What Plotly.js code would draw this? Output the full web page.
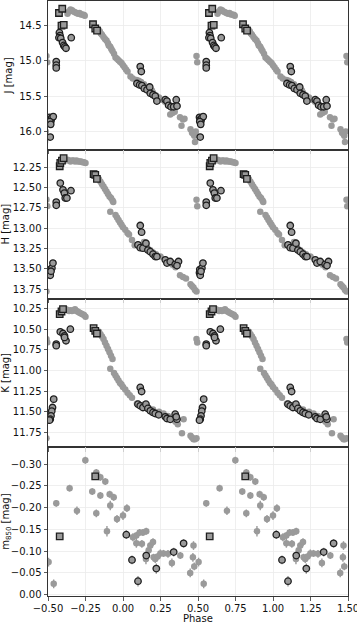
<!DOCTYPE html>
<html><head><meta charset="utf-8">
<script src="https://cdn.plot.ly/plotly-3.0.1.min.js"></script>
<style>html,body{margin:0;padding:0;background:#fff}#c{width:357px;height:623px}</style>
</head><body><div id="c"></div>
<script>
// ---------- J band (base phase in [-0.5,0.5), repeated each cycle) ----------
const J_grey_phase = [-0.37,-0.36,-0.35,-0.34,-0.33,-0.32,-0.31,-0.30,-0.29,-0.28,-0.27,-0.26,-0.255,
 -0.165,-0.155,-0.148,-0.14,-0.13,-0.12,-0.11,-0.10,-0.095,-0.085,-0.078,-0.07,-0.06,-0.05,-0.04,-0.03,-0.02,-0.01,0.0,0.01,0.02,0.03,0.05,0.065,0.09,0.105,0.12,0.14,0.16,0.18,0.193,0.20,0.22,0.24,0.26,0.28,0.30,0.315,0.33,0.345,0.38,0.39,0.40,0.41,0.45,0.46,0.47,0.475,0.48,0.485,0.49,0.495];
const J_grey_mag   = [14.33,14.30,14.27,14.28,14.30,14.31,14.32,14.33,14.32,14.34,14.34,14.35,14.36,
 14.55,14.58,14.61,14.63,14.66,14.69,14.71,14.75,14.78,14.80,14.83,14.86,14.90,14.95,14.97,14.99,15.01,15.03,15.06,15.09,15.12,15.15,15.22,15.25,15.27,15.28,15.30,15.33,15.38,15.42,15.42,15.45,15.49,15.52,15.55,15.58,15.62,15.76,15.74,15.72,15.80,15.92,15.83,15.82,15.97,16.02,16.04,16.06,16.15,16.00,14.93,15.02];
const J_circ_phase = [-0.424,-0.42,-0.427,-0.415,-0.403,-0.395,-0.388,-0.38,-0.345,-0.445,-0.445,-0.445,
 -0.49,-0.485,-0.48,-0.475,-0.465,-0.488,-0.482,-0.485,
 0.115,0.122,0.093,0.111,0.126,0.142,0.16,0.178,0.182,0.2,0.215,0.226,0.282,0.293,0.304,0.32,0.338,0.355,0.36];
const J_circ_mag   = [14.60,14.64,14.67,14.68,14.74,14.78,14.80,14.82,14.67,15.01,15.06,15.10,
 15.80,15.83,15.85,15.81,15.79,15.86,15.90,16.08,
 15.08,15.15,15.32,15.34,15.35,15.39,15.41,15.37,15.46,15.48,15.50,15.57,15.55,15.57,15.63,15.65,15.65,15.55,15.64];
const J_sq_phase = [-0.427,-0.405,-0.41,-0.395,-0.2,-0.185,-0.173];
const J_sq_mag   = [14.32,14.26,14.50,14.49,14.48,14.54,14.57];

// ---------- H band ----------
const H_grey_phase = [-0.385,-0.37,-0.36,-0.35,-0.34,-0.33,-0.32,-0.31,-0.30,-0.29,-0.28,-0.27,-0.26,-0.25,
 -0.16,-0.15,-0.14,-0.13,-0.12,-0.11,-0.10,-0.09,-0.08,-0.07,-0.065,-0.085,-0.05,-0.04,-0.03,-0.02,-0.01,0.0,0.015,0.03,0.04,0.06,0.078,0.14,0.16,0.18,0.2,0.22,0.25,0.28,0.31,0.33,0.35,0.38,0.40,0.42,0.45,0.46,0.47,0.48,0.49,0.49,0.495];
const H_grey_mag   = [12.17,12.16,12.17,12.18,12.17,12.17,12.18,12.17,12.18,12.18,12.18,12.19,12.19,12.20,
 12.40,12.43,12.46,12.49,12.52,12.55,12.58,12.61,12.63,12.66,12.68,12.80,12.84,12.87,12.90,12.93,12.96,12.99,13.02,13.06,13.08,13.145,13.21,13.17,13.23,13.27,13.30,13.32,13.35,13.39,13.43,13.45,13.48,13.58,13.60,13.62,13.69,13.71,13.73,13.76,13.78,12.65,12.73];
const H_circ_phase = [-0.418,-0.40,-0.391,-0.385,-0.374,-0.347,-0.445,-0.445,
 -0.49,-0.485,-0.488,-0.474,-0.467,-0.48,
 0.115,0.124,0.10,0.115,0.133,0.153,0.166,0.182,0.20,0.215,0.226,0.282,0.293,0.315,0.348,0.37,0.36];
const H_circ_mag   = [12.447,12.53,12.57,12.63,12.63,12.54,12.68,12.72,
 13.55,13.58,13.51,13.49,13.43,13.53,
 12.968,13.05,13.206,13.24,13.247,13.186,13.27,13.29,13.32,13.35,13.35,13.39,13.43,13.41,13.445,13.41,13.46];
const H_sq_phase = [-0.422,-0.418,-0.407,-0.396,-0.196,-0.185,-0.174];
const H_sq_mag   = [12.24,12.20,12.17,12.14,12.336,12.345,12.394];

// ---------- K band ----------
const K_grey_phase = [-0.38,-0.37,-0.36,-0.35,-0.34,-0.33,-0.32,-0.31,-0.30,-0.29,-0.28,-0.27,-0.26,-0.25,
 -0.16,-0.15,-0.14,-0.13,-0.12,-0.11,-0.10,-0.09,-0.08,-0.07,-0.085,-0.06,-0.05,-0.04,-0.03,-0.02,-0.01,0.0,0.015,0.03,0.045,0.06,0.093,0.14,0.17,0.20,0.24,0.27,0.30,0.33,0.35,0.365,0.404,0.393,0.45,0.46,0.47,0.48,0.49,0.49,0.495];
const K_grey_mag   = [10.26,10.27,10.28,10.27,10.28,10.27,10.26,10.28,10.29,10.30,10.31,10.32,10.33,10.35,
 10.53,10.56,10.59,10.62,10.66,10.70,10.74,10.78,10.82,10.86,10.98,11.03,11.06,11.09,11.12,11.15,11.17,11.20,11.23,11.27,11.30,11.33,11.40,11.41,11.45,11.47,11.50,11.52,11.55,11.59,11.62,11.65,11.59,11.76,11.79,11.81,11.83,11.83,11.82,10.62,10.66];
const K_circ_phase = [-0.418,-0.40,-0.39,-0.38,-0.351,-0.445,-0.445,-0.39,
 -0.462,-0.47,-0.475,-0.48,-0.485,-0.49,
 0.115,0.124,0.10,0.115,0.133,0.153,0.166,0.182,0.20,0.215,0.238,0.282,0.293,0.315,0.348,0.36,0.355];
const K_circ_mag   = [10.532,10.552,10.58,10.64,10.50,10.68,10.70,10.60,
 11.346,11.447,11.49,11.548,11.588,11.60,
 11.205,11.254,11.407,11.427,11.447,11.407,11.459,11.487,11.507,11.52,11.536,11.56,11.58,11.59,11.528,11.588,11.56];
const K_sq_phase = [-0.422,-0.41,-0.40,-0.196,-0.185,-0.174];
const K_sq_mag   = [10.318,10.286,10.258,10.488,10.52,10.552];

// ---------- 850 um ----------
const S_grey_phase = [-0.496,-0.462,-0.445,-0.356,-0.307,-0.251,-0.205,-0.178,-0.178,-0.151,-0.151,-0.118,-0.107,-0.089,-0.085,-0.062,-0.04,0.0,0.026,0.066,0.089,0.111,0.133,0.155,0.126,0.089,0.171,0.182,0.2,0.153,0.204,0.215,0.231,0.249,0.27,0.30,0.326,0.382,0.448,0.466,0.47,0.475];
const S_grey_mag   = [-0.075,-0.025,-0.210,-0.245,-0.193,-0.309,-0.237,-0.281,-0.187,-0.270,-0.228,-0.260,-0.146,-0.231,-0.205,-0.224,-0.174,-0.182,-0.199,-0.132,-0.136,-0.143,-0.143,-0.146,-0.117,-0.118,-0.102,-0.113,-0.121,-0.082,-0.086,-0.082,-0.088,-0.095,-0.095,-0.094,-0.073,-0.090,-0.050,-0.086,-0.113,-0.065];
const S_grey_err   = [0.010,0.010,0.008,0.008,0.010,0.008,0.008,0.008,0.009,0.008,0.008,0.008,0.012,0.008,0.011,0.008,0.009,0.010,0.009,0.009,0.008,0.008,0.008,0.008,0.009,0.010,0.010,0.009,0.009,0.012,0.008,0.009,0.008,0.009,0.008,0.009,0.010,0.008,0.010,0.010,0.010,0.009];
const S_circ_phase = [0.022,0.06,0.10,0.155,0.222,0.338,0.404];
const S_circ_mag   = [-0.138,-0.080,-0.031,-0.090,-0.060,-0.098,-0.118];
const S_circ_err   = [0.010,0.010,0.012,0.010,0.012,0.010,0.010];
const S_sq_phase = [-0.422,-0.185];
const S_sq_mag   = [-0.134,-0.272];
const S_sq_err   = [0.006,0.006];

const xTicks = [-0.5,-0.25,0,0.25,0.5,0.75,1.0,1.25,1.5];

// repeat each base phase over neighbouring cycles (phase-folded display)
function cyc(p){ return [].concat(p.map(v=>v-1), p, p.map(v=>v+1)); }
function rep(a){ return [].concat(a, a, a); }

const GREY = '#9a9a9a', EDGE = '#1e1e1e';
const traces = [];
function addSet(ax, gp, gm, cp, cm, sp, sm, ge, ce, se){
  const xa = ax===1 ? 'x' : 'x'+ax, ya = ax===1 ? 'y' : 'y'+ax;
  const eb = (e)=> e ? {type:'data', array: rep(e), visible:true, color:'#9a9a9a', thickness:1.4, width:0} : undefined;
  traces.push({type:'scatter', mode:'markers', x:cyc(gp), y:rep(gm), xaxis:xa, yaxis:ya,
    marker:{color:GREY, size:6.5, line:{width:0}}, error_y:eb(ge), showlegend:false, hoverinfo:'x+y'});
  traces.push({type:'scatter', mode:'markers', x:cyc(cp), y:rep(cm), xaxis:xa, yaxis:ya,
    marker:{color:GREY, size:6.5, line:{width:1.3, color:EDGE}}, error_y:eb(ce), showlegend:false});
  traces.push({type:'scatter', mode:'markers', x:cyc(sp), y:rep(sm), xaxis:xa, yaxis:ya,
    marker:{symbol:'square', color:GREY, size:6.5, line:{width:1.3, color:EDGE}}, error_y:eb(se), showlegend:false});
}
addSet(1, J_grey_phase, J_grey_mag, J_circ_phase, J_circ_mag, J_sq_phase, J_sq_mag);
addSet(2, H_grey_phase, H_grey_mag, H_circ_phase, H_circ_mag, H_sq_phase, H_sq_mag);
addSet(3, K_grey_phase, K_grey_mag, K_circ_phase, K_circ_mag, K_sq_phase, K_sq_mag);
addSet(4, S_grey_phase, S_grey_mag, S_circ_phase, S_circ_mag, S_sq_phase, S_sq_mag, S_grey_err, S_circ_err, S_sq_err);

const font = {family:'DejaVu Sans', size:10, color:'#111'};
function xax(dom, labels){
  return {domain:[0,1], anchor: dom, range:[-0.5,1.5], tickvals:xTicks, tickformat:'.2f',
    showticklabels:labels, ticks:'outside', ticklen:3.5, tickwidth:0.8, tickcolor:'#333',
    ticklabeloverflow:'allow', ticklabelstandoff:-1,
    showline:true, mirror:true, linecolor:'#333', linewidth:1,
    showgrid:true, gridcolor:'#ebebeb', gridwidth:0.8, zeroline:false, tickfont:font};
}
function yax(dom, range, tv, fmt, title, xa){
  return {domain:dom, anchor: xa, range:range, tickvals:tv, tickformat:fmt,
    ticks:'outside', ticklen:3.5, tickwidth:0.8, tickcolor:'#333',
    showline:true, mirror:true, linecolor:'#333', linewidth:1,
    showgrid:true, gridcolor:'#ebebeb', gridwidth:0.8, zeroline:false, tickfont:font,
    title:{text:title, font:font, standoff:4}};
}
const layout = {
  width:357, height:623, margin:{l:47.7, r:9.3, t:1, b:27},
  paper_bgcolor:'#fff', plot_bgcolor:'#fff', font:font, showlegend:false,
  xaxis: xax('y', false), xaxis2: xax('y2', false), xaxis3: xax('y3', false), xaxis4: xax('y4', true),
  yaxis:  yax([0.75,1], [16.26,14.15], [14.5,15.0,15.5,16.0], '.1f', 'J [mag]', 'x'),
  yaxis2: yax([0.5,0.75], [13.865,12.037], [12.25,12.5,12.75,13.0,13.25,13.5,13.75], '.2f', 'H [mag]', 'x2'),
  yaxis3: yax([0.25,0.5], [11.928,10.129], [10.25,10.5,10.75,11.0,11.25,11.5,11.75], '.2f', 'K [mag]', 'x3'),
  yaxis4: yax([0,0.25], [0.003,-0.339], [-0.30,-0.25,-0.20,-0.15,-0.10,-0.05,0.0], '.2f', 'm<sub>850</sub> [mag]', 'x4'),
  annotations: [{text:'Phase', xref:'paper', yref:'paper', x:0.5, y:-(618-596)/595,
    xanchor:'center', yanchor:'middle', showarrow:false, font:font}]
};
Plotly.newPlot('c', traces, layout, {staticPlot:true, displayModeBar:false});
</script></body></html>
